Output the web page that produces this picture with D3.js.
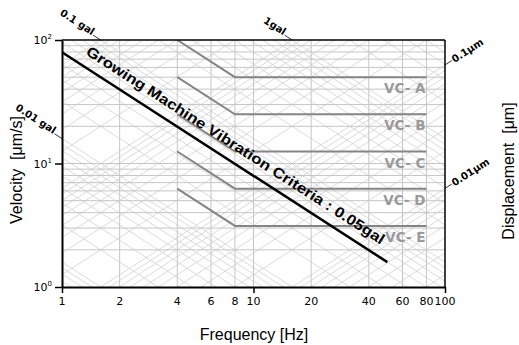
<!DOCTYPE html>
<html>
<head>
<meta charset="utf-8">
<script src="https://cdn.jsdelivr.net/npm/d3@7/dist/d3.min.js"></script>
<style>
body { margin: 0; background: #fff; }
svg { display: block; }
</style>
</head>
<body>
<script>
var W = 519, H = 345;

// ---- data ----
var xTicks = [1, 2, 4, 6, 8, 10, 20, 40, 60, 80, 100];
var xMajor = [1, 10, 100];
var xGridVals = [2, 4, 6, 8, 10, 20, 40, 60, 80];
var yTicks = [1, 10, 100];
var yTickExp = ["0", "1", "2"];
var yGridVals = [2, 3, 4, 5, 6, 7, 8, 9, 10, 20, 30, 40, 50, 60, 70, 80, 90];

var vcNames = ["VC- A", "VC- B", "VC- C", "VC- D", "VC- E"];
var vcStart = [100, 50, 25, 12.5, 6.25];    // um/s at 4 Hz
var vcLevel = [50, 25, 12.5, 6.25, 3.125];  // um/s from 8 Hz to 80 Hz
var vcFreq = [4, 8, 80];

var growFreq = [1, 50];
var growVel = [79.6, 1.59];
var growText = "Growing Machine Vibration Criteria : 0.05gal";

var accMarks = [0.01, 0.1, 1];               // gal
var accMarkText = ["0.01 gal", "0.1 gal", "1gal"];
var dispMarks = [0.1, 0.01];                 // um
var dispMarkText = ["0.1\u03bcm", "0.01\u03bcm"];

// tripartite grid: acceleration (um/s^2) and displacement (um) decades
var accDecades = [1, 10, 100, 1000, 10000];
var dispDecades = [0.001, 0.01, 0.1, 1, 10];
var gridMult = [1, 2, 3, 4, 5, 6, 7, 8, 9];

// ---- layout ----
var left = 62, right = 445, top_ = 40, bottom = 287;

var svg = d3.select("body").append("svg")
    .attr("width", W)
    .attr("height", H);

var x = d3.scaleLog().domain([1, 100]).range([left, right]);
var y = d3.scaleLog().domain([1, 100]).range([bottom, top_]);

var ang = Math.atan2(y(1) - y(10), x(10) - x(1));
var deg = ang * 180 / Math.PI;
var TWO_PI = 2 * Math.PI;

svg.append("clipPath").attr("id", "plot")
   .append("rect")
   .attr("x", left).attr("y", top_)
   .attr("width", right - left).attr("height", bottom - top_);

var grid = svg.append("g").attr("clip-path", "url(#plot)");

// diagonal grid lines
var accLines = [];
accDecades.forEach(function(d) { gridMult.forEach(function(m) { accLines.push(d * m); }); });
var dispLines = [];
dispDecades.forEach(function(d) { gridMult.forEach(function(m) { dispLines.push(d * m); }); });

grid.selectAll("line.acc")
    .data(accLines)
    .enter().append("line")
    .attr("x1", x(1)).attr("x2", x(100))
    .attr("y1", function(a) { return y(a / TWO_PI); })
    .attr("y2", function(a) { return y(a / (TWO_PI * 100)); })
    .style("stroke", "#d2d2d2")
    .style("stroke-width", 0.8);

grid.selectAll("line.disp")
    .data(dispLines)
    .enter().append("line")
    .attr("x1", x(1)).attr("x2", x(100))
    .attr("y1", function(d) { return y(d * TWO_PI); })
    .attr("y2", function(d) { return y(d * TWO_PI * 100); })
    .style("stroke", "#d2d2d2")
    .style("stroke-width", 0.8);

// rectangular grid
grid.selectAll("line.vg")
    .data(xGridVals)
    .enter().append("line")
    .attr("x1", function(d) { return x(d); })
    .attr("x2", function(d) { return x(d); })
    .attr("y1", top_).attr("y2", bottom)
    .style("stroke", "#c6c6c6")
    .style("stroke-width", 1);

grid.selectAll("line.hg")
    .data(yGridVals)
    .enter().append("line")
    .attr("x1", left).attr("x2", right)
    .attr("y1", function(d) { return y(d); })
    .attr("y2", function(d) { return y(d); })
    .style("stroke", "#c6c6c6")
    .style("stroke-width", 1);

// VC curves
var vcData = vcNames.map(function(n, i) {
  return { name: n, level: vcLevel[i],
           pts: [[vcFreq[0], vcStart[i]], [vcFreq[1], vcLevel[i]], [vcFreq[2], vcLevel[i]]] };
});

var line = d3.line()
    .x(function(p) { return x(p[0]); })
    .y(function(p) { return y(p[1]); });

grid.selectAll("path.vc")
    .data(vcData)
    .enter().append("path")
    .attr("d", function(d) { return line(d.pts); })
    .style("fill", "none")
    .style("stroke", "#858585")
    .style("stroke-width", 2);

svg.selectAll("text.vc")
    .data(vcData)
    .enter().append("text")
    .attr("x", x(vcFreq[2]) - 1)
    .attr("y", function(d) { return y(d.level) + 16; })
    .attr("text-anchor", "end")
    .style("font-family", "DejaVu Sans")
    .style("font-weight", "bold")
    .style("font-size", "13.5px")
    .style("fill", "#9a9a9a")
    .text(function(d) { return d.name; });

// growing machine criteria
var growPts = growFreq.map(function(f, i) { return [f, growVel[i]]; });
svg.append("path")
    .attr("d", line(growPts))
    .style("fill", "none")
    .style("stroke", "#000")
    .style("stroke-width", 2.5);

var f0 = 1.227;
var v0 = growVel[0] * Math.pow(f0 / growFreq[0], -1);
var gx = x(f0) + 11 * Math.sin(ang), gy = y(v0) - 11 * Math.cos(ang);
svg.append("text")
    .attr("transform", "translate(" + gx + "," + gy + ") rotate(" + deg + ")")
    .attr("textLength", 352)
    .attr("lengthAdjust", "spacingAndGlyphs")
    .style("font-family", "Liberation Sans, Arial, sans-serif")
    .style("font-weight", "bold")
    .style("font-size", "14.5px")
    .style("fill", "#000")
    .text(growText);

// frame
svg.append("line").attr("x1", left).attr("x2", right).attr("y1", top_).attr("y2", top_)
   .style("stroke", "#000").style("stroke-width", 1.5);
svg.append("line").attr("x1", right).attr("x2", right).attr("y1", top_).attr("y2", bottom)
   .style("stroke", "#000").style("stroke-width", 1.5);

// axes
var xAxis = svg.append("g")
    .attr("transform", "translate(0," + bottom + ")")
    .call(d3.axisBottom(x).tickValues(xMajor).tickSize(6).tickSizeOuter(0).tickFormat(""));
xAxis.select(".domain").style("stroke-width", 2);
xAxis.selectAll(".tick line").style("stroke-width", 1.5);

svg.append("g")
    .selectAll("text")
    .data(xTicks)
    .enter().append("text")
    .attr("x", function(d) { return x(d); })
    .attr("y", bottom + 18)
    .attr("text-anchor", "middle")
    .style("font-family", "DejaVu Sans")
    .style("font-size", "11px")
    .text(function(d) { return d; });

var yAxis = svg.append("g")
    .attr("transform", "translate(" + left + ",0)")
    .call(d3.axisLeft(y).tickValues(yTicks).tickSize(7).tickSizeOuter(0).tickFormat(""));
yAxis.select(".domain").style("stroke-width", 2);
yAxis.selectAll(".tick line").style("stroke-width", 1.5);

var yl = svg.append("g").selectAll("text")
    .data(yTicks)
    .enter().append("text")
    .attr("x", left - 10)
    .attr("y", function(d) { return y(d) + 4; })
    .attr("text-anchor", "end")
    .style("font-family", "DejaVu Sans")
    .style("font-size", "11px");
yl.append("tspan").text("10");
yl.append("tspan")
  .attr("dy", -5)
  .style("font-size", "7px")
  .text(function(d, i) { return yTickExp[i]; });

// axis titles
svg.append("text")
    .attr("x", (left + right) / 2 + 0.5)
    .attr("y", 340)
    .attr("text-anchor", "middle")
    .style("font-family", "Liberation Sans, Arial, sans-serif")
    .style("font-size", "16px")
    .text("Frequency [Hz]");

svg.append("text")
    .attr("transform", "translate(22,170) rotate(-90)")
    .attr("text-anchor", "middle")
    .style("font-family", "Liberation Sans, Arial, sans-serif")
    .style("font-size", "16px")
    .style("white-space", "pre")
    .text("Velocity  [\u03bcm/s]");

svg.append("text")
    .attr("transform", "translate(514,171) rotate(-90)")
    .attr("text-anchor", "middle")
    .style("font-family", "Liberation Sans, Arial, sans-serif")
    .style("font-size", "16px")
    .style("white-space", "pre")
    .text("Displacement  [\u03bcm]");

// acceleration marks (gal -> um/s^2)
accMarks.forEach(function(g, i) {
  var a = g * 10000;
  var fTop = a / (TWO_PI * 100);
  var px, py;
  if (fTop >= 1) { px = x(fTop); py = y(100); }
  else { px = x(1); py = y(a / TWO_PI); }
  var ux = -Math.cos(ang), uy = -Math.sin(ang);
  svg.append("line")
     .attr("x1", px).attr("y1", py)
     .attr("x2", px + 9 * ux).attr("y2", py + 9 * uy)
     .style("stroke", "#000").style("stroke-width", 0.8);
  svg.append("text")
     .attr("transform", "translate(" + (px + 10 * ux) + "," + (py + 10 * uy) + ") rotate(" + deg + ")")
     .attr("text-anchor", "end")
     .attr("dy", "0.1em")
     .style("font-family", "DejaVu Sans")
     .style("font-weight", "bold")
     .style("font-size", "10px")
     .text(accMarkText[i]);
});

// displacement marks
dispMarks.forEach(function(d, i) {
  var px = x(100), py = y(d * TWO_PI * 100);
  var ux = Math.cos(ang), uy = -Math.sin(ang);
  svg.append("line")
     .attr("x1", px).attr("y1", py)
     .attr("x2", px + 8 * ux).attr("y2", py + 8 * uy)
     .style("stroke", "#000").style("stroke-width", 0.8);
  svg.append("text")
     .attr("transform", "translate(" + (px + 9 * ux) + "," + (py + 9 * uy) + ") rotate(" + (-deg) + ")")
     .attr("text-anchor", "start")
     .attr("dy", "0.35em")
     .style("font-family", "DejaVu Sans")
     .style("font-weight", "bold")
     .style("font-size", "10px")
     .text(dispMarkText[i]);
});
</script>
</body>
</html>
